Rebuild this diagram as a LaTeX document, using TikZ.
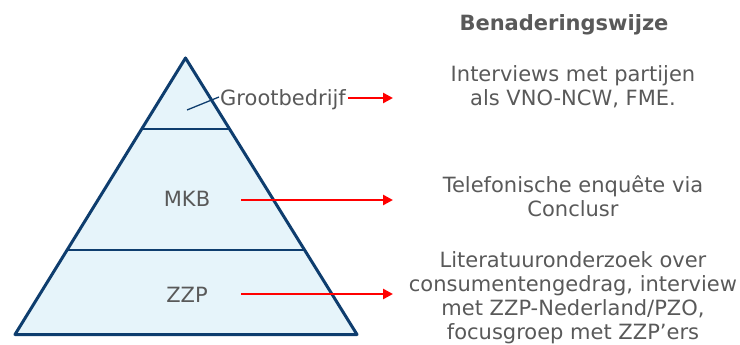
\documentclass[tikz,border=0pt]{standalone}
\usepackage{fontspec}
\setmainfont{DejaVu Sans}
\usetikzlibrary{arrows.meta}
\definecolor{navy}{HTML}{0E3D6E}
\definecolor{pale}{HTML}{E6F4FA}
\definecolor{txt}{HTML}{595959}
\begin{document}
\begin{tikzpicture}[x=1pt,y=-1pt,
  lbl/.style={text=txt,font=\fontsize{21}{24}\selectfont,inner sep=0pt},
  rtxt/.style={lbl,align=center,anchor=base},
  redarrow/.style={red,line width=2.8pt,-{Triangle[length=10pt,width=10pt]}},
  divider/.style={navy,line width=1.4pt}]
\useasboundingbox (0,0) rectangle (740,345);
\coordinate (apex) at (185.5,58);
\coordinate (bl) at (15,334.5);
\coordinate (br) at (357,334.5);
\fill[pale] (apex) -- (bl) -- (br) -- cycle;
\draw[divider] (141.6,129) coordinate (d1l) -- (229.4,129) coordinate (d1r);
\draw[divider] (67,250) coordinate (d2l) -- (304,250) coordinate (d2r);
\draw[navy,line width=3pt,line join=round] (apex) -- (bl) -- (br) -- cycle;
% labels
\node[lbl,anchor=base west] (gb) at (220,106) {Grootbedrijf};
\coordinate (gbtip) at (187,110);
\draw[navy,line width=1.3pt] (gbtip) -- (219,97);
\node[lbl,anchor=base] (mkb) at (187,206) {MKB};
\node[lbl,anchor=base] (zzp) at (187,302) {ZZP};
% right texts
\node[lbl,anchor=base,font=\fontsize{21}{24}\selectfont\bfseries] (head) at (564,31) {Benaderingswijze};
\node[rtxt] (t1) at (573,106) {Interviews met partijen\\als VNO-NCW, FME.};
\node[rtxt] (t2) at (573,216) {Telefonische enquête via\\Conclusr};
\node[rtxt] (t3) at (573,339) {Literatuuronderzoek over\\consumentengedrag, interview\\met ZZP-Nederland/PZO,\\focusgroep met ZZP’ers};
% arrows
\coordinate (a1s) at (348,98);
\coordinate (a1e) at (393,98);
\coordinate (a2s) at (241,200);
\coordinate (a2e) at (393,200);
\coordinate (a3s) at (241,294);
\coordinate (a3e) at (393,294);
\draw[redarrow] (a1s) -- (a1e);
\draw[redarrow] (a2s) -- (a2e);
\draw[redarrow] (a3s) -- (a3e);
\end{tikzpicture}
\end{document}
